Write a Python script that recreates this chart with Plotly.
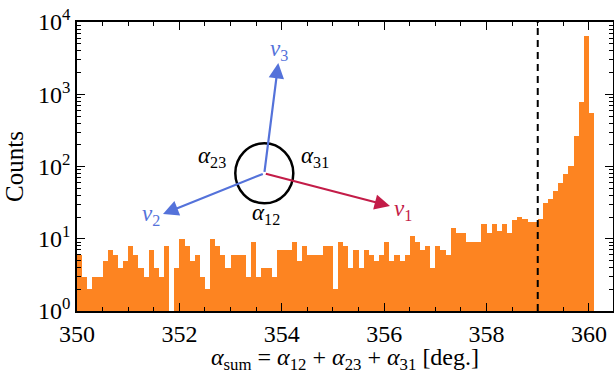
import plotly.graph_objects as go

# ---------------- data ----------------
bin_start = 350.0
bin_width = 0.1
counts = [
    6, 3, 2, 3, 3, 5, 7, 6, 4, 5,
    8, 6, 4, 3, 7, 4, 3, 8, 0, 4,
    10, 8, 5, 6, 3, 2, 10, 8, 6, 4,
    6, 6, 6, 3, 9, 3, 4, 4, 3, 7,
    7, 7, 9, 5, 8, 6, 6, 6, 8, 8,
    2, 9, 8, 4, 7, 4, 7, 6, 5, 6,
    9, 5, 6, 5, 6, 11, 9, 7, 8, 4,
    8, 7, 6, 14, 12, 12, 9, 9, 9, 16,
    12, 16, 13, 16, 12, 18, 20, 19, 17, 17,
    19, 31, 36, 46, 59, 80, 101, 263, 777, 6380, 542,
]
cut_value = 359.0
x_range = [350.0, 360.47]
x_tick_vals = [350, 352, 354, 356, 358, 360]
x_tick_text = ["350", "352", "354", "356", "358", "360"]
y_tick_vals = [1, 10, 100, 1000, 10000]
y_tick_text = ["10<sup>0</sup>", "10<sup>1</sup>", "10<sup>2</sup>",
               "10<sup>3</sup>", "10<sup>4</sup>"]
y_minor_vals = [m * d for d in (1, 10, 100, 1000) for m in range(2, 10)]

ORANGE = "#fd8421"
BLUE = "#5472da"
RED = "#c31c48"
FONT = "Liberation Serif"

edges = [bin_start + i * bin_width for i in range(len(counts))]

fig = go.Figure()
fig.add_trace(go.Bar(
    x=edges, y=counts, width=bin_width, offset=0,
    marker=dict(color=ORANGE, line=dict(width=0)),
    showlegend=False, hoverinfo="skip",
))

# dashed cut line
fig.add_shape(type="line", xref="x", yref="paper", x0=cut_value, x1=cut_value,
              y0=0, y1=1, line=dict(color="black", width=2, dash="7px,5px"))

# ---------------- inset diagram (paper coords) ----------------
L, R, T, B = 77, 613, 22, 311
W, H = R - L, B - T
def px2paper(px, py):
    return (px - L) / W, (B - py) / H

cx, cy = 264.3, 173.3
cpx, cpy = px2paper(cx, cy)
fig.add_shape(type="circle", xref="paper", yref="paper",
              xsizemode="pixel", ysizemode="pixel",
              xanchor=cpx, yanchor=cpy, x0=-29, x1=29, y0=-30, y1=30,
              line=dict(color="black", width=2.5))

arrows = [  # tip pixel, colour
    ((278.3, 63.0), BLUE),
    ((390.0, 206.0), RED),
    ((163.0, 214.0), BLUE),
]
for (tx, ty), col in arrows:
    px_, py_ = px2paper(tx, ty)
    fig.add_annotation(x=px_, y=py_, xref="paper", yref="paper",
                       ax=cx - tx, ay=cy - ty, axref="pixel", ayref="pixel",
                       showarrow=True, arrowhead=2, arrowsize=1.4, arrowwidth=2.2,
                       arrowcolor=col, text="")

labels = [
    (279, 50, "<i>v</i><sub>3</sub>", BLUE),
    (403, 210, "<i>v</i><sub>1</sub>", RED),
    (151, 215, "<i>v</i><sub>2</sub>", BLUE),
    (212, 157, "<i>α</i><sub>23</sub>", "black"),
    (315, 157, "<i>α</i><sub>31</sub>", "black"),
    (266, 214, "<i>α</i><sub>12</sub>", "black"),
]
for lx, ly, txt, col in labels:
    px_, py_ = px2paper(lx, ly)
    fig.add_annotation(x=px_, y=py_, xref="paper", yref="paper", text=txt,
                       showarrow=False, font=dict(family=FONT, size=23, color=col),
                       xanchor="center", yanchor="middle")

axis_common = dict(showline=True, linecolor="black", linewidth=1.5, mirror="allticks",
                   ticks="inside", tickcolor="black", tickwidth=1.3, showgrid=False,
                   zeroline=False, tickfont=dict(family=FONT, size=24, color="black"))

fig.update_xaxes(range=x_range, tickmode="array", tickvals=x_tick_vals,
                 ticktext=x_tick_text, ticklen=8,
                 minor=dict(dtick=0.5, tick0=350, ticks="inside", ticklen=4,
                            tickcolor="black", tickwidth=1),
                 title=dict(text="<i>α</i><sub>sum</sub> = <i>α</i><sub>12</sub> + "
                                 "<i>α</i><sub>23</sub> + <i>α</i><sub>31</sub> [deg.]",
                            font=dict(family=FONT, size=24, color="black"), standoff=8),
                 **axis_common)
fig.update_yaxes(type="log", range=[0, 4], tickmode="array", tickvals=y_tick_vals,
                 ticktext=y_tick_text, ticklen=8,
                 minor=dict(tickvals=y_minor_vals, ticks="inside", ticklen=4,
                            tickcolor="black", tickwidth=1),
                 title=dict(text="Counts", font=dict(family=FONT, size=25, color="black"),
                            standoff=7),
                 **axis_common)

fig.update_layout(
    width=614, height=374,
    margin=dict(l=L, r=614 - R, t=T, b=374 - B, pad=0, autoexpand=False),
    plot_bgcolor="white", paper_bgcolor="white",
    bargap=0, font=dict(family=FONT),
)

fig.write_html("out.html", config={"displayModeBar": False},
               post_script="document.body.style.margin='0';document.body.style.overflow='hidden';")
